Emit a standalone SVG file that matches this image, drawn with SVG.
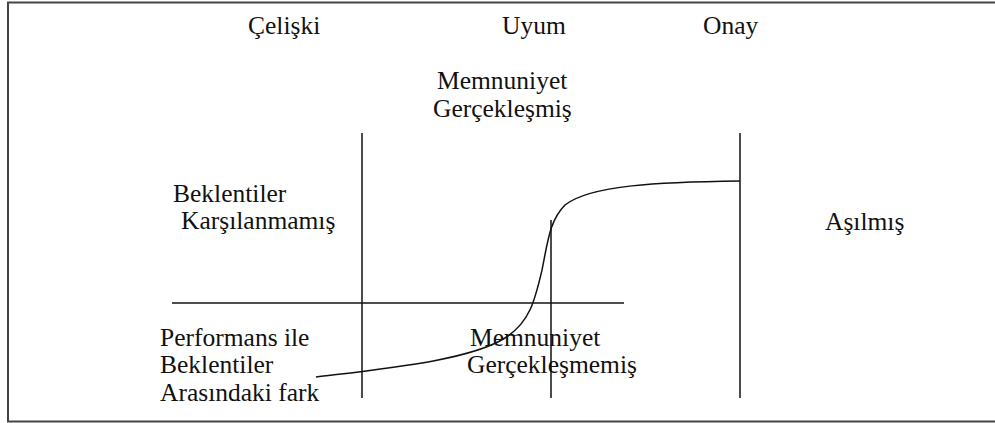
<svg xmlns="http://www.w3.org/2000/svg" width="995" height="423" viewBox="0 0 995 423">
<style>
.t{font-family:'Liberation Serif','DejaVu Serif',serif;font-size:25.5px;fill:#111}
.ln{stroke:#111;stroke-width:1.5;fill:none}
.fr{stroke:#444;stroke-width:2;fill:none}
</style>
<rect width="995" height="423" fill="#fff"/>
<g id="frame">
<path class="fr" d="M8,422 V2.5 H995 M7,421.5 H995"/>
</g>
<g id="labels-top">
<text class="t" x="248" y="34">Çelişki</text>
<text class="t" x="502" y="34">Uyum</text>
<text class="t" x="703" y="34">Onay</text>
</g>
<g id="node-memnuniyet-gerceklesmis">
<text class="t" x="437" y="89">Memnuniyet</text>
<text class="t" x="433" y="117">Gerçekleşmiş</text>
</g>
<g id="node-beklentiler-karsilanmamis">
<text class="t" x="173" y="202">Beklentiler</text>
<text class="t" x="181" y="229">Karşılanmamış</text>
</g>
<g id="node-asilmis">
<text class="t" x="825" y="230">Aşılmış</text>
</g>
<g id="node-performans">
<text class="t" x="160" y="346">Performans ile</text>
<text class="t" x="160" y="373">Beklentiler</text>
<text class="t" x="160" y="401">Arasındaki fark</text>
</g>
<g id="node-memnuniyet-gerceklesmemis">
<text class="t" x="470" y="346">Memnuniyet</text>
<text class="t" x="467" y="373">Gerçekleşmemiş</text>
</g>
<g id="connectors">
<line class="ln" x1="362" y1="133" x2="362" y2="398"/>
<line class="ln" x1="551" y1="220" x2="551" y2="398"/>
<line class="ln" x1="740" y1="133" x2="740" y2="398"/>
<line class="ln" x1="172" y1="303" x2="624" y2="303"/>
<path class="ln" d="M316,377 C390,368 470,360 505,338 C530,322 535,300 542,270 C548,240 550,220 565,205 C590,185 660,182 740,181"/>
</g>
</svg>
